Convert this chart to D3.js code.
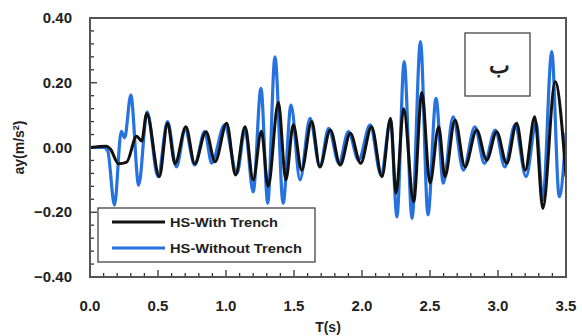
<!DOCTYPE html>
<html lang="en">
<head>
<meta charset="utf-8">
<title>ay vs T</title>
<script src="https://cdn.jsdelivr.net/npm/d3@7"></script>
<style>
  body { margin: 0; background: #fff; }
  text { font-family: "Liberation Sans", Arial, sans-serif; }
</style>
</head>
<body>
<div id="chart"></div>
<script>
// series names
var seriesNames = ["HS-With Trench", "HS-Without Trench"];

// HS-With Trench (black): time (s) and ay (m/s2) at turning points
var withT = [0.00, 0.12, 0.15, 0.21, 0.27, 0.343, 0.38, 0.417, 0.51, 0.57, 0.625, 0.705, 0.77, 0.853, 0.92,
  1.005, 1.07, 1.14, 1.20, 1.26, 1.31, 1.385, 1.44, 1.495, 1.556, 1.63, 1.69, 1.767, 1.84, 1.914, 1.99,
  2.07, 2.147, 2.21, 2.25, 2.306, 2.38, 2.44, 2.50, 2.564, 2.61, 2.684, 2.757, 2.843, 2.917, 2.99, 3.064,
  3.137, 3.20, 3.27, 3.33, 3.42, 3.50];
var withA = [0.000, 0.004, -0.005, -0.050, -0.045, 0.035, 0.020, 0.105, -0.090, 0.075, -0.050, 0.064, -0.050, 0.049, -0.044,
  0.075, -0.085, 0.064, -0.100, 0.050, -0.120, 0.140, -0.100, 0.070, -0.070, 0.080, -0.060, 0.054, -0.054, 0.044, -0.049,
  0.064, -0.090, 0.090, -0.141, 0.120, -0.167, 0.170, -0.110, 0.064, -0.090, 0.085, -0.060, 0.054, -0.039, 0.049, -0.049,
  0.075, -0.070, 0.095, -0.188, 0.203, -0.090];

// HS-Without Trench (blue)
var withoutT = [0.00, 0.10, 0.13, 0.18, 0.23, 0.255, 0.30, 0.358, 0.42, 0.50, 0.57, 0.635, 0.70, 0.77, 0.843, 0.895,
  0.99, 1.08, 1.14, 1.20, 1.257, 1.307, 1.36, 1.42, 1.478, 1.544, 1.618, 1.69, 1.755, 1.83, 1.90, 1.975,
  2.06, 2.14, 2.21, 2.257, 2.31, 2.368, 2.43, 2.485, 2.544, 2.598, 2.67, 2.745, 2.83, 2.90, 2.98, 3.05,
  3.125, 3.206, 3.28, 3.33, 3.395, 3.45, 3.50];
var withoutA = [0.000, 0.000, -0.010, -0.178, 0.050, 0.030, 0.162, -0.116, 0.110, -0.090, 0.080, -0.060, 0.054, -0.054, 0.049, -0.048,
  0.070, -0.080, 0.054, -0.137, 0.183, -0.172, 0.280, -0.172, 0.131, -0.100, 0.090, -0.060, 0.059, -0.049, 0.049, -0.039,
  0.070, -0.085, 0.085, -0.214, 0.265, -0.219, 0.327, -0.208, 0.152, -0.110, 0.095, -0.070, 0.064, -0.049, 0.054, -0.060,
  0.070, -0.090, 0.075, -0.162, 0.296, -0.152, 0.045];

// tick labels
var xTickVals = [0, 0.5, 1, 1.5, 2, 2.5, 3, 3.5];
var yTickVals = [-0.4, -0.2, 0, 0.2, 0.4];

var W = 582, H = 336;
var margin = {top: 18, right: 16, bottom: 59, left: 90};
var width = W - margin.left - margin.right,
    height = H - margin.top - margin.bottom;

var svg = d3.select("#chart").append("svg")
    .attr("width", W).attr("height", H);

var g = svg.append("g")
    .attr("transform", "translate(" + margin.left + "," + margin.top + ")");

var x = d3.scaleLinear().domain([0, 3.5]).range([0, width]);
var y = d3.scaleLinear().domain([-0.4, 0.4]).range([height, 0]);

g.append("clipPath").attr("id", "clip")
  .append("rect").attr("width", width).attr("height", height);

// minor ticks, pointing inward
var xMinor = d3.range(0, 36).map(function(i){ return i / 10; });
g.selectAll(".xt").data(xMinor).enter().append("line")
  .attr("x1", function(d){ return x(d); }).attr("x2", function(d){ return x(d); })
  .attr("y1", height).attr("y2", function(d, i){ return i % 5 == 0 ? height - 7 : height - 4; })
  .attr("stroke", "#333").attr("stroke-width", 1.3);

var yMinor = d3.range(0, 21).map(function(i){ return -0.4 + i * 0.04; });
g.selectAll(".yt").data(yMinor).enter().append("line")
  .attr("y1", function(d){ return y(d); }).attr("y2", function(d){ return y(d); })
  .attr("x1", 0).attr("x2", function(d, i){ return i % 5 == 0 ? 7 : 4; })
  .attr("stroke", "#333").attr("stroke-width", 1.3);

// tick labels
g.selectAll(".xl").data(xTickVals).enter().append("text")
  .attr("x", function(d){ return x(d); }).attr("y", height + 34)
  .attr("text-anchor", "middle").attr("font-size", "15px").attr("font-weight", "bold")
  .attr("fill", "#222").text(function(d){ return d3.format(".1f")(d); });

g.selectAll(".yl").data(yTickVals).enter().append("text")
  .attr("x", -18).attr("y", function(d){ return y(d) + 5; })
  .attr("text-anchor", "end").attr("font-size", "15px").attr("font-weight", "bold")
  .attr("fill", "#222").text(function(d){ return d3.format(".2f")(d); });

// axis titles
svg.append("text")
  .attr("transform", "translate(24," + (margin.top + y(0)) + ") rotate(-90)")
  .attr("text-anchor", "middle").attr("font-size", "14px").attr("font-weight", "bold")
  .attr("fill", "#222")
  .html('ay(m/s<tspan baseline-shift="super" font-size="9px">2</tspan>)');

svg.append("text")
  .attr("x", 328).attr("y", 332)
  .attr("text-anchor", "middle").attr("font-size", "14px").attr("font-weight", "bold")
  .attr("fill", "#222").text("T(s)");

// lines
var line = d3.line()
  .x(function(d){ return x(d[0]); })
  .y(function(d){ return y(d[1]); })
  .curve(d3.curveMonotoneX);

var plot = g.append("g").attr("clip-path", "url(#clip)");

plot.append("path")
  .datum(d3.zip(withoutT, withoutA))
  .attr("d", line).attr("fill", "none")
  .attr("stroke", "#2672de").attr("stroke-width", 3.2).attr("stroke-linejoin", "round");

plot.append("path")
  .datum(d3.zip(withT, withA))
  .attr("d", line).attr("fill", "none")
  .attr("stroke", "#111").attr("stroke-width", 3).attr("stroke-linejoin", "round");

// frame
g.append("rect").attr("width", width).attr("height", height)
  .attr("fill", "none").attr("stroke", "#555").attr("stroke-width", 2);

// legend
var leg = svg.append("g").attr("transform", "translate(98,208)");
leg.append("rect").attr("width", 217).attr("height", 54)
  .attr("fill", "#fff").attr("stroke", "#444").attr("stroke-width", 1.3);
var legColors = ["#111", "#2672de"];
seriesNames.forEach(function(name, i){
  var yy = 14 + i * 26;
  leg.append("line").attr("x1", 14).attr("x2", 67).attr("y1", yy).attr("y2", yy)
    .attr("stroke", legColors[i]).attr("stroke-width", 3);
  leg.append("text").attr("x", 72).attr("y", yy + 5)
    .attr("font-size", "12px").attr("font-weight", "bold").attr("fill", "#222")
    .attr("textLength", i == 0 ? 108 : 132).attr("lengthAdjust", "spacingAndGlyphs")
    .text(name);
});

// label box
var lb = svg.append("g").attr("transform", "translate(465,33)");
lb.append("rect").attr("width", 65).attr("height", 63)
  .attr("fill", "#fff").attr("stroke", "#444").attr("stroke-width", 1.3);
lb.append("text").attr("x", 34).attr("y", 40).attr("text-anchor", "middle")
  .attr("font-family", "'Noto Sans', 'DejaVu Sans', sans-serif")
  .attr("font-size", "22px").attr("font-weight", "bold").attr("fill", "#222")
  .text("ب");
</script>
</body>
</html>
